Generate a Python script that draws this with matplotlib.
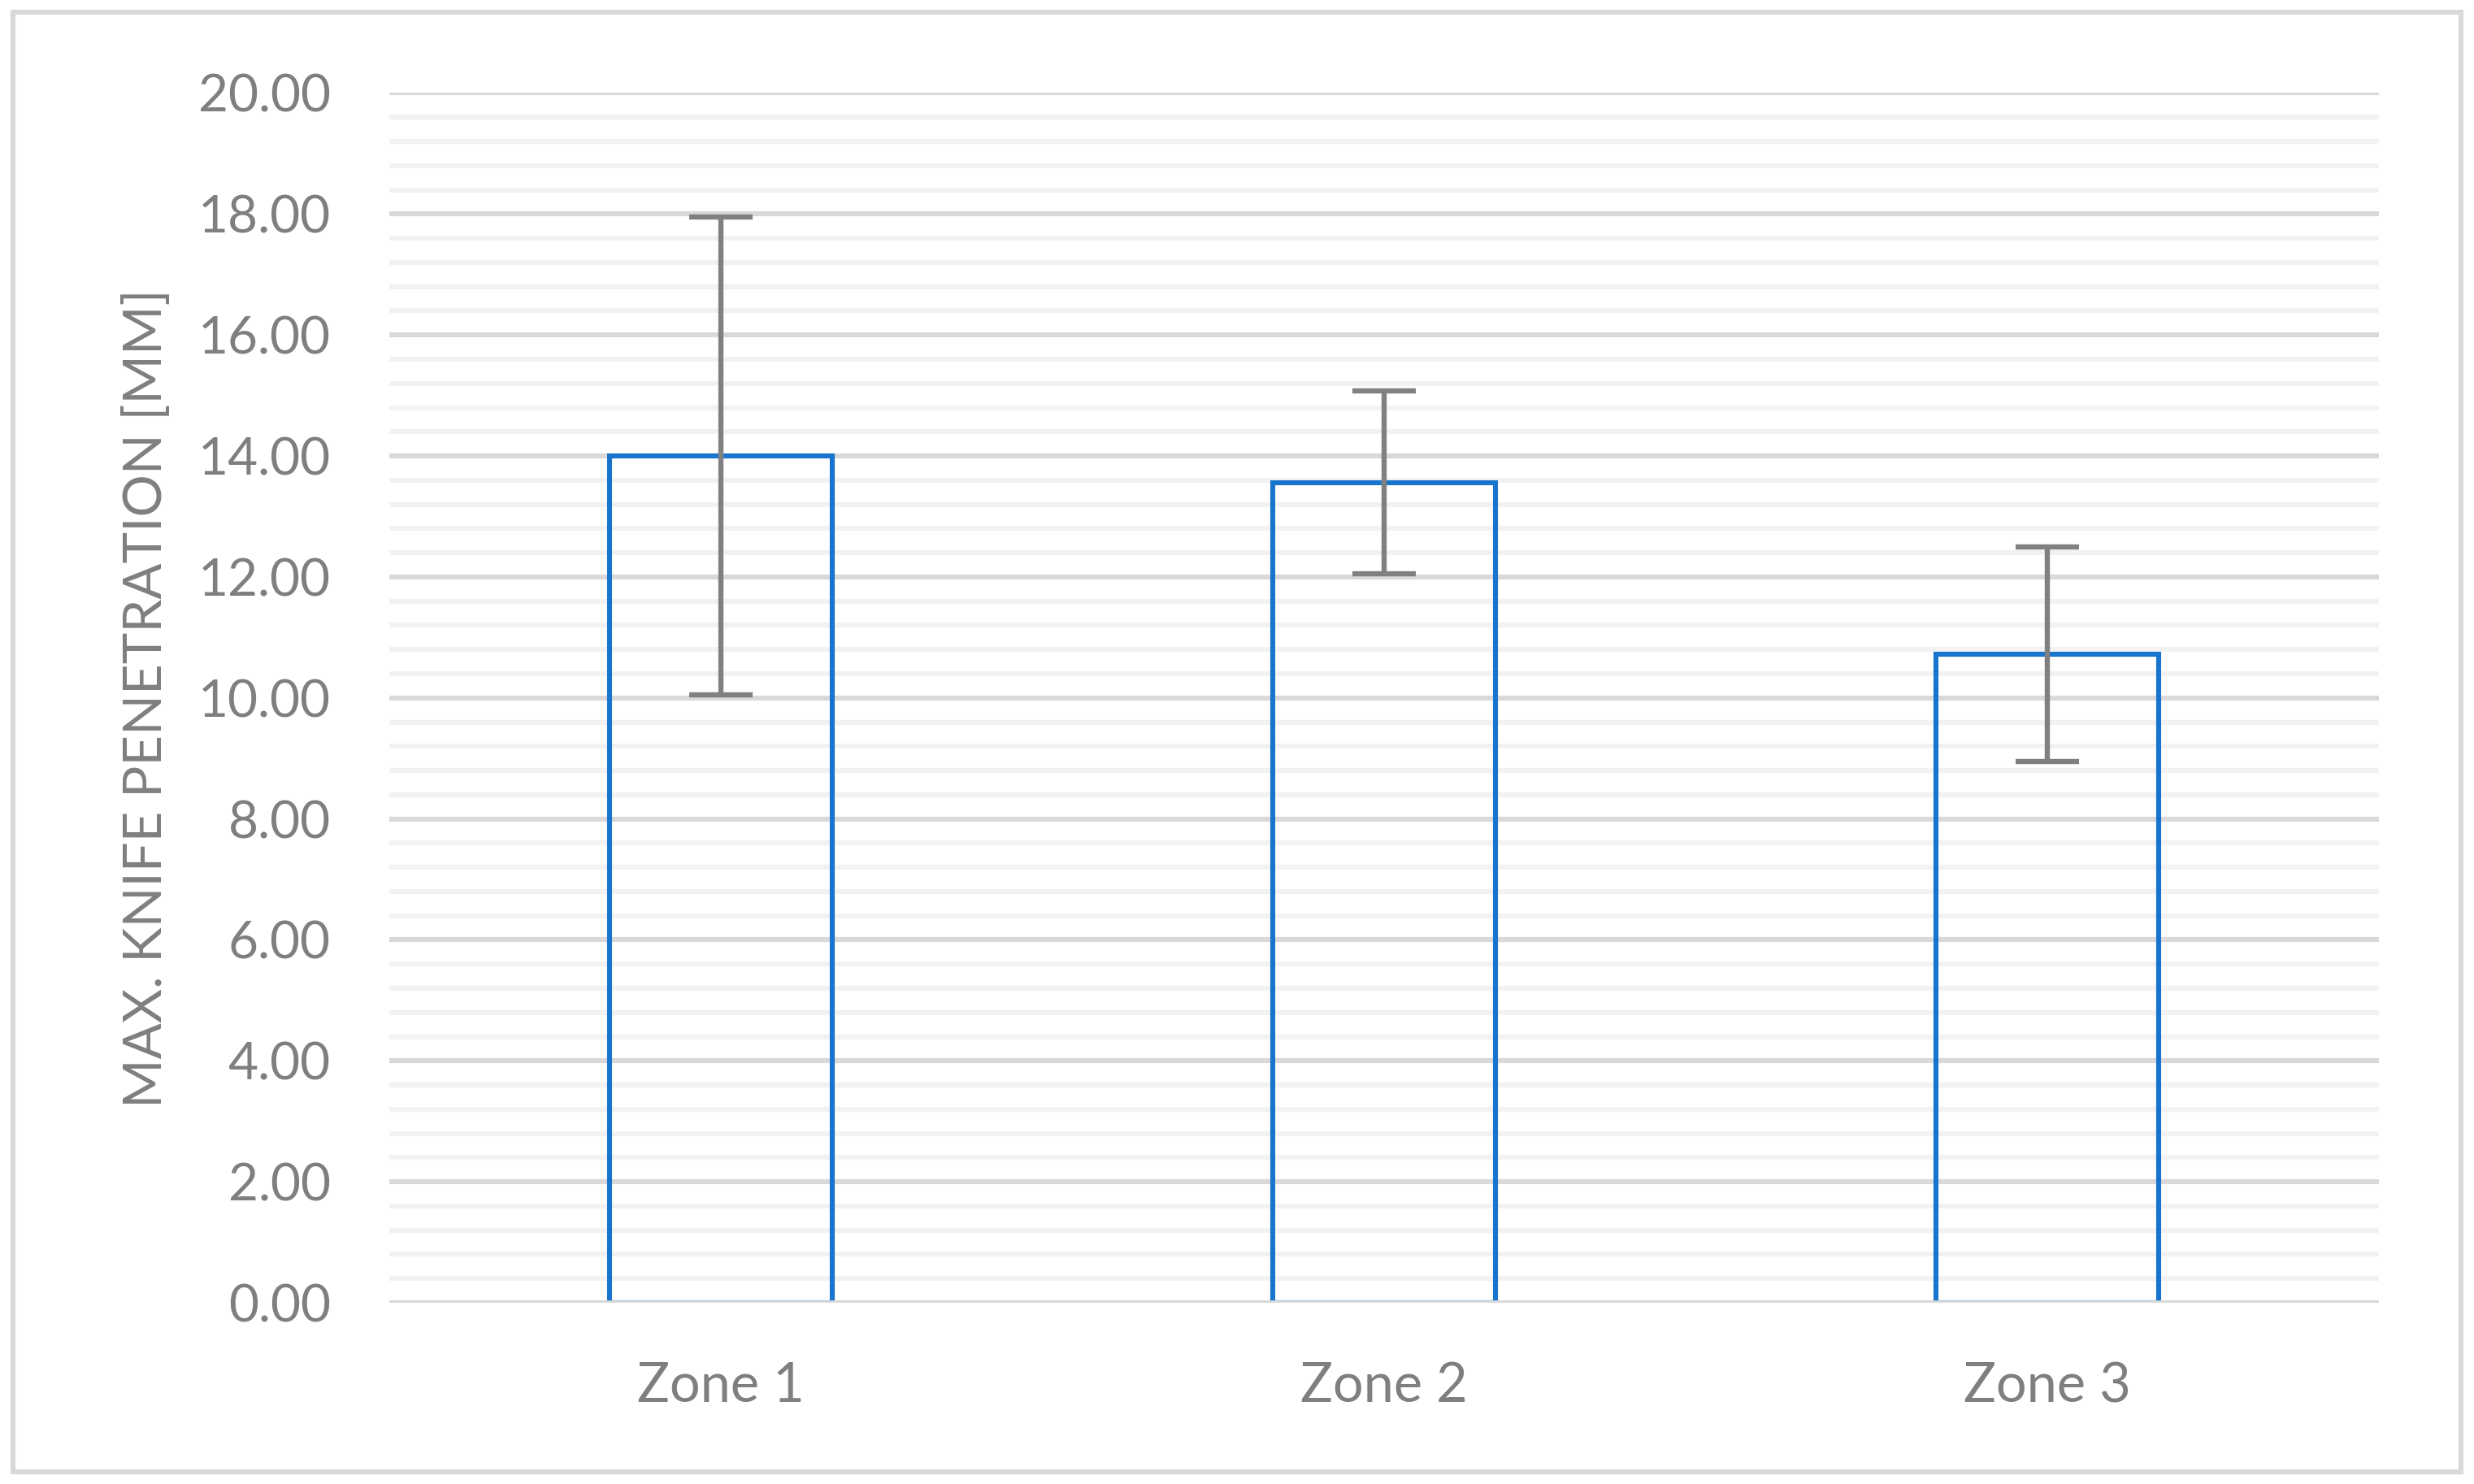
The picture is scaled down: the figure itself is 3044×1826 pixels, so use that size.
import matplotlib
matplotlib.use("Agg")
import matplotlib.pyplot as plt
from matplotlib.patches import Rectangle
from matplotlib.ticker import MultipleLocator, FormatStrFormatter

categories = ["Zone 1", "Zone 2", "Zone 3"]
means = [14.00, 13.56, 10.72]
errors = [3.95, 1.51, 1.77]
y_label = "MAX. KNIFE PENETRATION [MM]"

plt.rcParams['font.family'] = ['Lato', 'DejaVu Sans']

W, H = 3044, 1826
DPI = 200
fig = plt.figure(figsize=(W / DPI, H / DPI), dpi=DPI)
fig.patch.set_facecolor("white")

# outer chart border
fig.add_artist(Rectangle((16 / W, 15 / H), (3028 - 16) / W, (1811 - 15) / H,
                         transform=fig.transFigure, fill=False,
                         edgecolor="#D9D9D9", linewidth=2.2))

ax = fig.add_axes([479 / W, 223 / H, (2927 - 479) / W, (1711.5 - 223) / H])
ax.set_facecolor("none")

x = list(range(len(categories)))
ax.bar(x, means, width=0.336, facecolor="none", edgecolor="#1874CD",
       linewidth=2.2, joinstyle="miter", zorder=3)
ax.errorbar(x, means, yerr=errors, fmt="none", ecolor="#808080",
            elinewidth=2.3, capsize=14, capthick=2.3, zorder=4)

ax.set_xlim(-0.5, 2.5)
ax.set_ylim(0, 20)
ax.yaxis.set_major_locator(MultipleLocator(2))
ax.yaxis.set_minor_locator(MultipleLocator(0.4))
ax.yaxis.set_major_formatter(FormatStrFormatter("%.2f"))
ax.grid(axis="y", which="minor", color="#F2F2F2", linewidth=2.2, zorder=0)
ax.grid(axis="y", which="major", color="#D9D9D9", linewidth=2.2, zorder=1)
ax.axhline(0, color="#D9D9D9", linewidth=2.4, zorder=5)
ax.set_axisbelow(True)

for s in ax.spines.values():
    s.set_visible(False)

ax.set_xticks(x)
ax.set_xticklabels(categories)
ax.tick_params(axis="both", which="both", length=0, colors="#7F7F7F")
ax.tick_params(axis="x", labelsize=24, pad=26)
ax.tick_params(axis="y", labelsize=23, pad=26)

ax.set_ylabel(y_label, color="#7F7F7F", fontsize=23.5)
ax.yaxis.set_label_coords(-0.110, 0.5)

fig.savefig("out.png", dpi=DPI, facecolor="white")
